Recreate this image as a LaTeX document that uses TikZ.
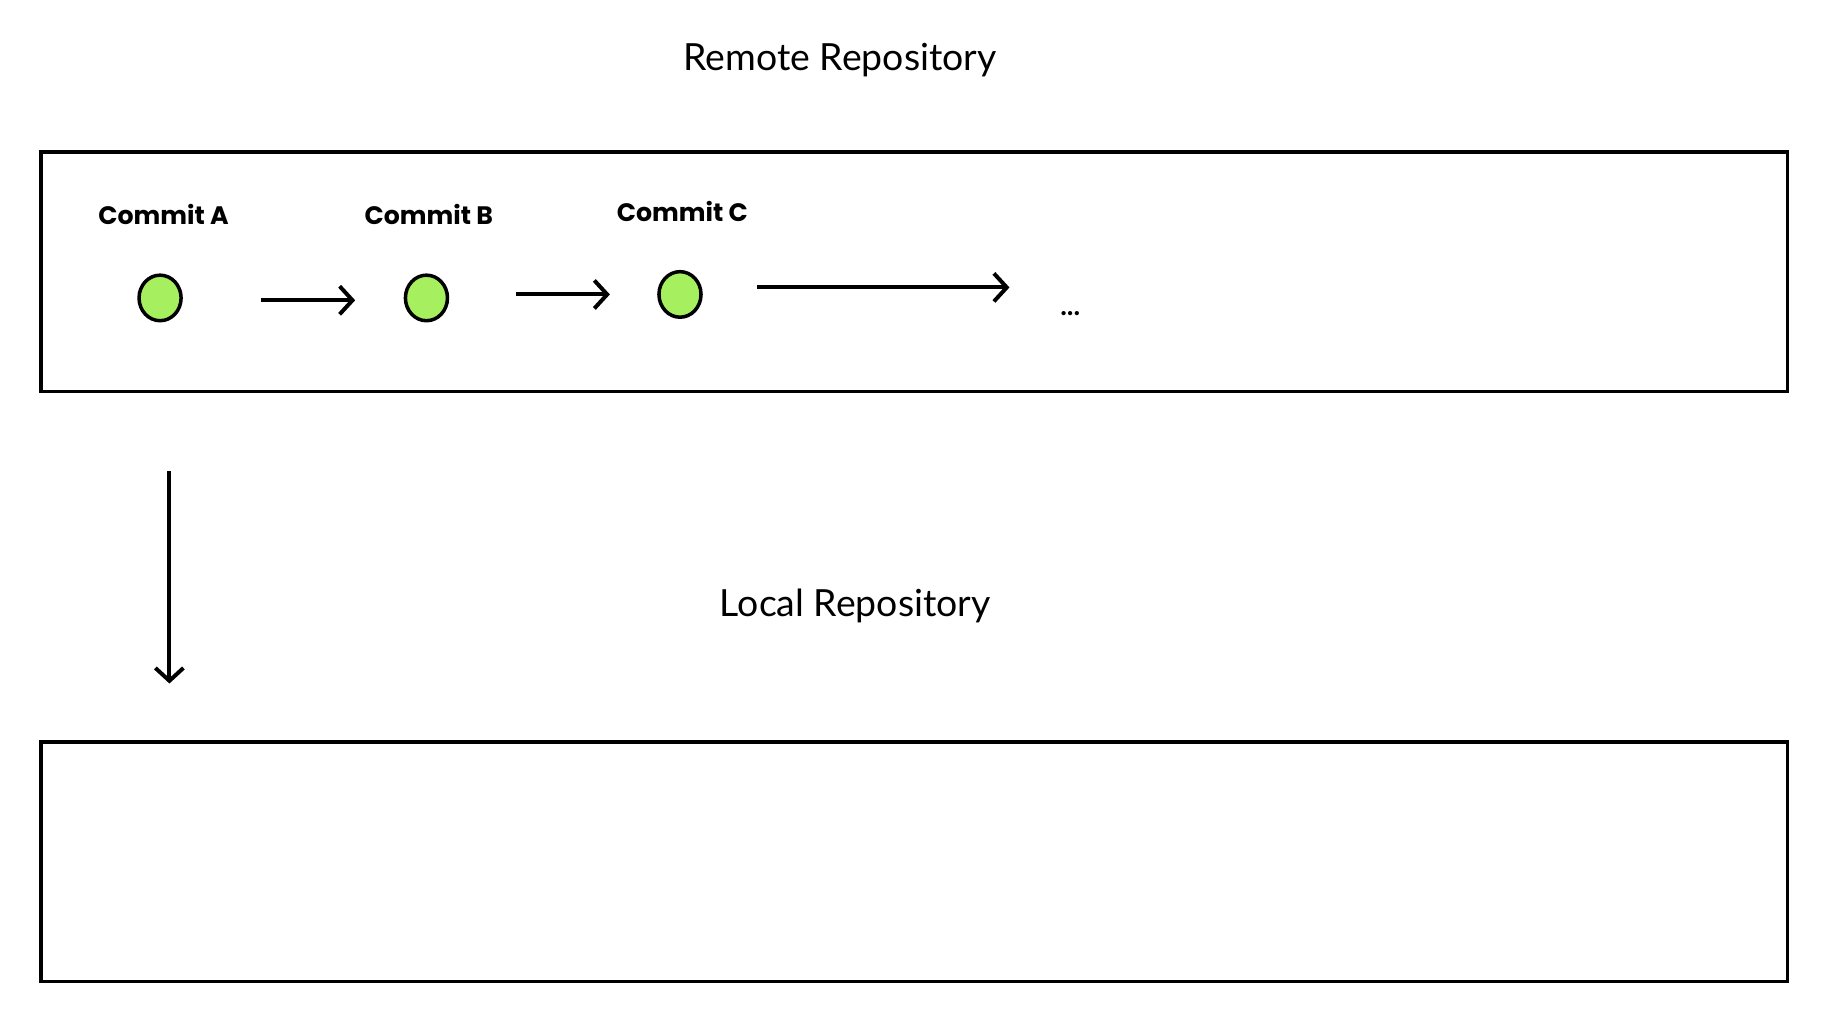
\documentclass[tikz,border=0pt]{standalone}
\usepackage{fontspec}
\setmainfont{Lato}
\newfontfamily\heavy{Poppins}
\usetikzlibrary{arrows.meta,shapes.geometric}
\definecolor{commitgreen}{HTML}{A6F060}
\begin{document}
\begin{tikzpicture}[x=0.5pt,y=-0.5pt,
  repobox/.style={draw=black,line width=1.5pt},
  commit/.style={ellipse,draw=black,line width=1.5pt,fill=commitgreen,minimum width=18pt,minimum height=19.5pt,inner sep=0pt},
  clabel/.style={font=\heavy\bfseries\fontsize{10.8}{13}\selectfont,inner sep=0pt},
  title/.style={font=\fontsize{16}{18}\selectfont,inner sep=0pt},
  flow/.style={line width=1.7pt,-{Straight Barb[length=5.5pt,width=12pt,line width=1.7pt]}}]
\path[use as bounding box,fill=white] (0,0) rectangle (1568,868);
\node[title] (remote) at (719,51) {Remote Repository};
\draw[repobox] (35,130) rectangle (1530,335);
\node[clabel] (la) at (140,184) {Commit A};
\node[clabel] (lb) at (367,184) {Commit B};
\node[clabel] (lc) at (584,181) {Commit C};
\node[commit] (ca) at (137,255) {};
\node[commit] (cb) at (365,255) {};
\node[commit] (cc) at (582,252) {};
\node[inner sep=0pt,font=\bfseries\fontsize{12}{14}\selectfont] (dots) at (916,268) {...};
\coordinate (a1) at (223,257); \coordinate (a2) at (304,257);
\coordinate (b1) at (442,252); \coordinate (b2) at (522,252);
\coordinate (c1) at (648,246); \coordinate (c2) at (864,246);
\draw[flow] (a1) -- (a2);
\draw[flow] (b1) -- (b2);
\draw[flow] (c1) -- (c2);
\coordinate (d1) at (145,403); \coordinate (d2) at (145,585);
\draw[flow] (d1) -- (d2);
\node[title] (local) at (732,519) {Local Repository};
\draw[repobox] (35,635) rectangle (1530,840);
\end{tikzpicture}
\end{document}
